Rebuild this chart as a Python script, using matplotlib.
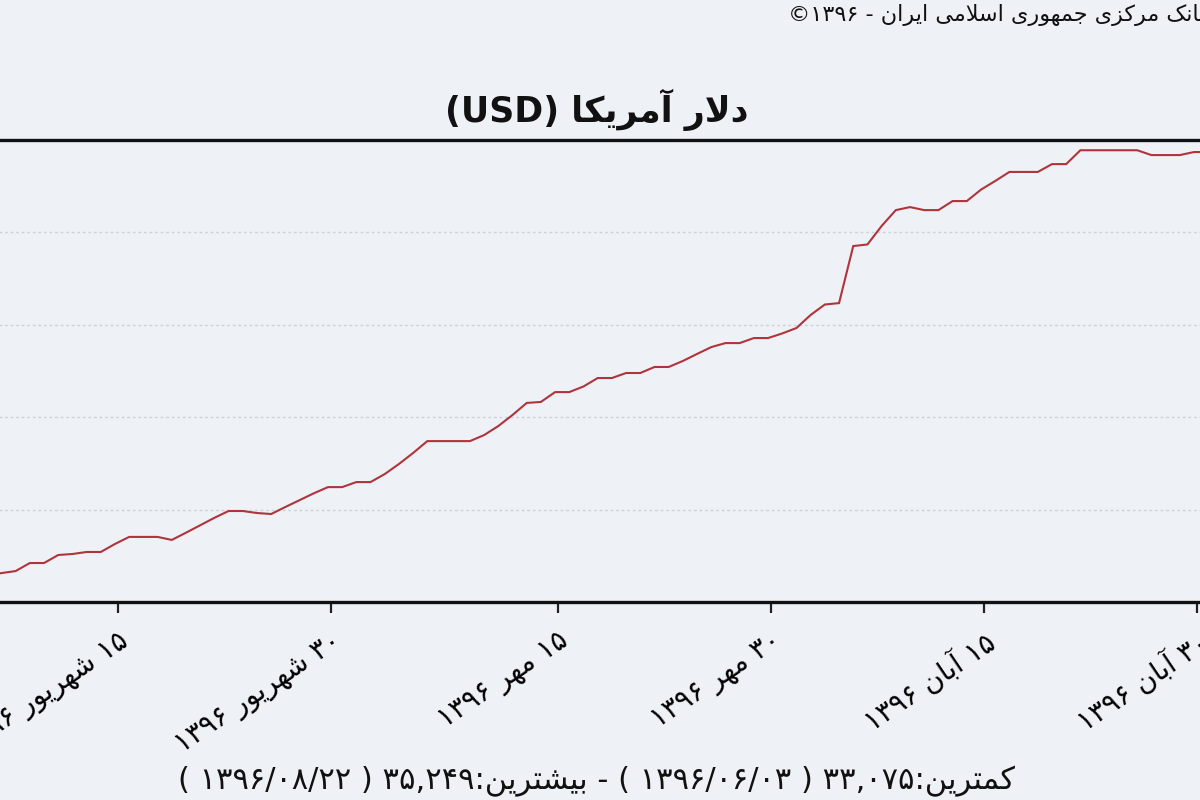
import re
import numpy as np
import matplotlib
matplotlib.use("Agg")
import matplotlib.pyplot as plt

# ---------------- data ----------------
title_text = "دلار آمریکا (USD)"
copyright_text = "بانک مرکزی جمهوری اسلامی ایران - ۱۳۹۶©"
summary_text = "کمترین:۳۳,۰۷۵ ( ۱۳۹۶/۰۶/۰۳ ) - بیشترین:۳۵,۲۴۹ ( ۱۳۹۶/۰۸/۲۲ )"

# day index counted from 1 Shahrivar 1396 (= 0); series starts on 3 Shahrivar
usd = [33075, 33090, 33110, 33130, 33144, 33154, 33194, 33194, 33234, 33239,
       33249, 33249, 33289, 33324, 33324, 33324, 33309, 33345, 33382, 33419,
       33453, 33453, 33443, 33438, 33473, 33507, 33541, 33572, 33572, 33597,
       33597, 33637, 33687, 33742, 33801, 33801, 33801, 33801, 33831, 33876,
       33931, 33991, 33996, 34045, 34045, 34073, 34115, 34115, 34140, 34140,
       34170, 34170, 34200, 34235, 34269, 34289, 34289, 34314, 34314, 34337,
       34364, 34429, 34481, 34488, 34772, 34780, 34872, 34951, 34966, 34951,
       34951, 34996, 34996, 35053, 35096, 35141, 35141, 35141, 35180, 35180,
       35249, 35249, 35249, 35249, 35249, 35225, 35225, 35225, 35240, 35240]
days = list(range(2, 2 + len(usd)))

tick_days = [14.2, 29.2, 45.2, 60.2, 75.2, 90.2]
tick_labels = ["۱۵ شهریور ۱۳۹۶", "۳۰ شهریور ۱۳۹۶", "۱۵ مهر ۱۳۹۶",
               "۳۰ مهر ۱۳۹۶", "۱۵ آبان ۱۳۹۶", "۳۰ آبان ۱۳۹۶"]

# ---------------- minimal Persian shaping + bidi ----------------
FORMS = {
    'ا': (0xFE8D, 0xFE8E), 'آ': (0xFE81, 0xFE82),
    'د': (0xFEA9, 0xFEAA), 'ذ': (0xFEAB, 0xFEAC),
    'ر': (0xFEAD, 0xFEAE), 'ز': (0xFEAF, 0xFEB0),
    'ژ': (0xFB8A, 0xFB8B), 'و': (0xFEED, 0xFEEE),
    'ب': (0xFE8F, 0xFE90, 0xFE91, 0xFE92), 'پ': (0xFB56, 0xFB57, 0xFB58, 0xFB59),
    'ت': (0xFE95, 0xFE96, 0xFE97, 0xFE98), 'ث': (0xFE99, 0xFE9A, 0xFE9B, 0xFE9C),
    'ج': (0xFE9D, 0xFE9E, 0xFE9F, 0xFEA0), 'چ': (0xFB7A, 0xFB7B, 0xFB7C, 0xFB7D),
    'ح': (0xFEA1, 0xFEA2, 0xFEA3, 0xFEA4), 'خ': (0xFEA5, 0xFEA6, 0xFEA7, 0xFEA8),
    'س': (0xFEB1, 0xFEB2, 0xFEB3, 0xFEB4), 'ش': (0xFEB5, 0xFEB6, 0xFEB7, 0xFEB8),
    'ص': (0xFEB9, 0xFEBA, 0xFEBB, 0xFEBC), 'ض': (0xFEBD, 0xFEBE, 0xFEBF, 0xFEC0),
    'ط': (0xFEC1, 0xFEC2, 0xFEC3, 0xFEC4), 'ظ': (0xFEC5, 0xFEC6, 0xFEC7, 0xFEC8),
    'ع': (0xFEC9, 0xFECA, 0xFECB, 0xFECC), 'غ': (0xFECD, 0xFECE, 0xFECF, 0xFED0),
    'ف': (0xFED1, 0xFED2, 0xFED3, 0xFED4), 'ق': (0xFED5, 0xFED6, 0xFED7, 0xFED8),
    'ک': (0xFB8E, 0xFB8F, 0xFB90, 0xFB91), 'گ': (0xFB92, 0xFB93, 0xFB94, 0xFB95),
    'ل': (0xFEDD, 0xFEDE, 0xFEDF, 0xFEE0), 'م': (0xFEE1, 0xFEE2, 0xFEE3, 0xFEE4),
    'ن': (0xFEE5, 0xFEE6, 0xFEE7, 0xFEE8), 'ه': (0xFEE9, 0xFEEA, 0xFEEB, 0xFEEC),
    'ی': (0xFBFC, 0xFBFD, 0xFBFE, 0xFBFF),
}
DUAL = {c for c, f in FORMS.items() if len(f) == 4}
JOIN = set(FORMS)


def shape(s):
    out = []
    i, n = 0, len(s)
    while i < n:
        c = s[i]
        jp = i > 0 and s[i - 1] in DUAL
        if c == 'ل' and i + 1 < n and s[i + 1] in 'اآ':
            iso, fin = (0xFEFB, 0xFEFC) if s[i + 1] == 'ا' else (0xFEF5, 0xFEF6)
            out.append(chr(fin if jp else iso))
            i += 2
            continue
        if c in FORMS:
            f = FORMS[c]
            jn = c in DUAL and i + 1 < n and s[i + 1] in JOIN
            if len(f) == 2:
                out.append(chr(f[1] if jp else f[0]))
            else:
                if jp and jn:
                    out.append(chr(f[3]))
                elif jp:
                    out.append(chr(f[1]))
                elif jn:
                    out.append(chr(f[2]))
                else:
                    out.append(chr(f[0]))
        else:
            out.append(c)
        i += 1
    return ''.join(out)


MIRROR = {'(': ')', ')': '('}


def fa(text):
    toks = re.split(r'([0-9۰-۹A-Za-z]+(?:[,./][0-9۰-۹A-Za-z]+)*)', text)
    vis = []
    for k, t in enumerate(toks):
        if k % 2 == 1:
            vis.append(t)
        else:
            vis.append(''.join(MIRROR.get(ch, ch) for ch in shape(t)[::-1]))
    return ''.join(reversed(vis))


# ---------------- figure ----------------
BG = '#EEF1F6'
plt.rcParams['font.family'] = ['DejaVu Sans']

fig = plt.figure(figsize=(12, 8), dpi=100, facecolor=BG)

x0, x1 = 1.5, 92.0
px_per_day = 14.197
left_px = -83.76 + px_per_day * x0
right_px = -83.76 + px_per_day * x1
ax = fig.add_axes([left_px / 1200, (800 - 602) / 800,
                   (right_px - left_px) / 1200, 462 / 800])
ax.set_facecolor(BG)

ax.plot(days, usd, color='#B0343C', lw=1.5, solid_joinstyle='miter')

ax.set_xlim(x0, x1)
ax.set_ylim(33000, 35300)
ax.set_yticks(np.linspace(33000, 35300, 6))
ax.yaxis.grid(True, color='#CDD2DB', linestyle=(0, (2, 2)), lw=1.0)
ax.tick_params(axis='y', left=False, labelleft=False)

for s in ('left', 'right'):
    ax.spines[s].set_visible(False)
for s in ('top', 'bottom'):
    ax.spines[s].set_linewidth(2.4)
    ax.spines[s].set_color('#111111')

ax.set_xticks(tick_days)
ax.set_xticklabels([fa(t) for t in tick_labels], rotation=34,
                   ha='right', va='top', rotation_mode='anchor', fontsize=20)
ax.tick_params(axis='x', direction='out', length=8, width=1.6,
               color='#222222', pad=10)

fig.text(597 / 1200, 1 - 110 / 800, fa(title_text), ha='center', va='center',
         fontsize=25, fontweight='bold', color='#111111')
fig.text(788 / 1200, 1 - 15 / 800, fa(copyright_text), ha='left', va='center',
         fontsize=16, color='#111111')
fig.text(597 / 1200, 1 - 781 / 800, fa(summary_text), ha='center', va='center',
         fontsize=22, color='#111111')

fig.savefig('out.png', dpi=100, facecolor=BG)
